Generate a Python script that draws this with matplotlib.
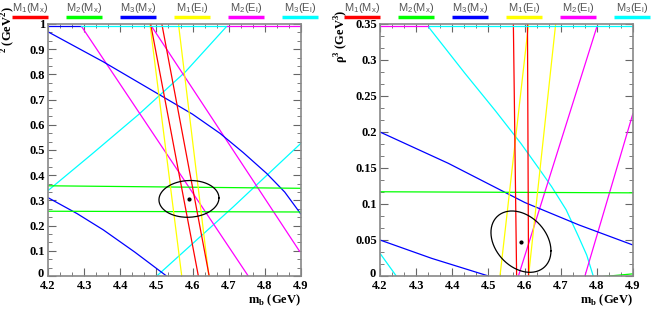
import numpy as np
import matplotlib
matplotlib.use("Agg")
import matplotlib.pyplot as plt
import matplotlib.transforms as mtransforms
from matplotlib.ticker import MultipleLocator, AutoMinorLocator

plt.rcParams['font.family'] = ['Liberation Serif', 'DejaVu Serif']
plt.rcParams['mathtext.fontset'] = 'custom'
plt.rcParams['mathtext.rm'] = 'Liberation Serif:bold'
plt.rcParams['mathtext.bf'] = 'Liberation Serif:bold'
plt.rcParams['mathtext.sf'] = 'Liberation Sans'

# legend
series_labels = [r'M$_\mathsf{1}$(M$_\mathsf{x}$)', r'M$_\mathsf{2}$(M$_\mathsf{x}$)', r'M$_\mathsf{3}$(M$_\mathsf{x}$)',
                 r'M$_\mathsf{1}$(E$_\mathsf{l}$)', r'M$_\mathsf{2}$(E$_\mathsf{l}$)', r'M$_\mathsf{3}$(E$_\mathsf{l}$)']
series_colors = ['#ff0000', '#00ff00', '#0000ff', '#ffff00', '#ff00ff', '#00ffff']

# left panel curves (m_b, y)
left_red_a = ([4.484, 4.616], [1.0, 0.0])
left_red_b = ([4.515, 4.646], [1.0, 0.0])
left_green_a = ([4.2, 4.9], [0.358, 0.348])
left_green_b = ([4.2, 4.9], [0.257, 0.254])
left_blue_a = ([4.2, 4.353, 4.51, 4.60, 4.676, 4.74, 4.805, 4.855, 4.897, 4.9],
               [0.969, 0.850, 0.718, 0.642, 0.566, 0.490, 0.407, 0.333, 0.251, 0.245])
left_blue_b = ([4.2, 4.28, 4.353, 4.44, 4.528], [0.311, 0.248, 0.183, 0.095, 0.0])
left_yellow_a = ([4.482, 4.570], [1.0, 0.0])
left_yellow_b = ([4.561, 4.645], [1.0, 0.0])
left_magenta_a = ([4.293, 4.754], [0.99, 0.0])
left_magenta_b = ([4.487, 4.897], [0.99, 0.096])
left_cyan_a = ([4.2, 4.32, 4.45, 4.58, 4.694], [0.339, 0.482, 0.640, 0.810, 0.99])
left_cyan_b = ([4.501, 4.713, 4.9], [0.0, 0.275, 0.527])
left_top_edge_x = [4.2, 4.29, 4.694, 4.9]
left_top_edge_c = [2, 5, 4]
left_center = (4.590, 0.306)
left_err = (0.083, 0.073, 0.05)   # sx, sy, correlation

# right panel curves
right_red_a = ([4.569, 4.578], [0.35, 0.0])
right_red_b = ([4.608, 4.611], [0.35, 0.0])
right_green_a = ([4.2, 4.9], [0.117, 0.1155])
right_green_b = ([4.2, 4.9], [-0.029, 0.003])
right_blue_a = ([4.2, 4.389, 4.601, 4.75, 4.9], [0.200, 0.1565, 0.102, 0.071, 0.043])
right_blue_b = ([4.2, 4.343, 4.5], [0.050, 0.0245, 0.0])
right_yellow_a = ([4.532, 4.611], [0.0, 0.35])
right_yellow_b = ([4.611, 4.686], [0.0, 0.35])
right_magenta_a = ([4.583, 4.800], [0.0, 0.346])
right_magenta_b = ([4.767, 4.9], [0.0, 0.226])
right_cyan_a = ([4.334, 4.435, 4.52, 4.59, 4.64, 4.675, 4.715, 4.749, 4.772, 4.790],
                [0.346, 0.2815, 0.229, 0.184, 0.149, 0.124, 0.092, 0.055, 0.029, 0.0])
right_cyan_b = ([4.2, 4.245], [0.0315, 0.0])
right_top_edge_x = [4.2, 4.335, 4.9]
right_top_edge_c = [4, 5]
right_center = (4.590, 0.0477)
right_err = (0.083, 0.0426, -0.3)

left_curves = [(left_cyan_a, 5), (left_cyan_b, 5), (left_magenta_a, 4), (left_magenta_b, 4),
               (left_blue_a, 2), (left_blue_b, 2), (left_green_a, 1), (left_green_b, 1),
               (left_yellow_a, 3), (left_yellow_b, 3), (left_red_a, 0), (left_red_b, 0)]
right_curves = [(right_cyan_a, 5), (right_cyan_b, 5), (right_magenta_a, 4), (right_magenta_b, 4),
                (right_blue_a, 2), (right_blue_b, 2), (right_green_a, 1), (right_green_b, 1),
                (right_yellow_a, 3), (right_yellow_b, 3), (right_red_a, 0), (right_red_b, 0)]

fig = plt.figure(figsize=(6.54, 3.10), dpi=100)
W, H = 654, 310


def panel(x0, ymax, ystep, curves, edge_x, edge_c, center, err, ylab, ylab_x, ylab_y):
    ax = fig.add_axes([x0 / W, 1 - 276 / H, 253 / W, 252 / H])
    for (xs, ys), ci in curves:
        ax.plot(xs, ys, color=series_colors[ci], lw=0.9, solid_capstyle='butt')
    for i, ci in enumerate(edge_c):
        ax.plot([edge_x[i], edge_x[i + 1]], [ymax * 0.992] * 2, color=series_colors[ci], lw=0.9)
    sx, sy, r = err
    t = np.linspace(0, 2 * np.pi, 200)
    phi = np.arccos(r)
    ax.plot(center[0] + sx * np.cos(t), center[1] + sy * np.cos(t + phi), color='black', lw=0.9)
    ax.plot([center[0]], [center[1]], 'o', color='black', ms=2)

    ax.set_xlim(4.2, 4.9)
    ax.set_ylim(0, ymax)
    ax.xaxis.set_major_locator(MultipleLocator(0.1))
    ax.xaxis.set_minor_locator(AutoMinorLocator(3))
    ax.yaxis.set_major_locator(MultipleLocator(ystep))
    ax.yaxis.set_minor_locator(AutoMinorLocator(3))
    # the "0" of the y axis is drawn separately, nudged clear of the corner x label
    ax.yaxis.set_major_formatter(plt.FuncFormatter(
        lambda v, p: '' if abs(v) < 1e-9 else '%g' % round(v, 3)))
    ax.xaxis.set_major_formatter(plt.FuncFormatter(lambda v, p: '%g' % round(v, 2)))
    ax.tick_params(which='both', direction='in', top=True, right=True, color='#666666')
    ax.tick_params(which='major', length=6, width=0.8, labelsize=9, pad=2)
    ax.tick_params(axis='x', which='major', pad=3)
    ax.tick_params(which='minor', length=3, width=0.6)
    for lab in ax.get_xticklabels() + ax.get_yticklabels():
        lab.set_fontweight('bold')
    zero_tr = ax.get_yaxis_transform() + mtransforms.ScaledTranslation(-3 / 72, 1.2 / 72, fig.dpi_scale_trans)
    ax.text(0, 0, '0', transform=zero_tr, ha='right', va='center', fontsize=9, fontweight='bold')
    for s in ax.spines.values():
        s.set_color('#888888')
        s.set_linewidth(1.2)
    ax.set_xlabel(r'm$_\mathbf{b}$ (GeV)', loc='right', fontsize=9, fontweight='bold', labelpad=0.5)
    fig.text(ylab_x / W, 1 - ylab_y / H, ylab, rotation=90, ha='center', va='top',
             fontsize=9, fontweight='bold')
    return ax


panel(48, 1.0, 0.1, left_curves, left_top_edge_x, left_top_edge_c, left_center, left_err,
      r'$^\mathbf{2}$ (GeV$^\mathbf{2}$)', 8, 6)
panel(380, 0.35, 0.05, right_curves, right_top_edge_x, right_top_edge_c, right_center, right_err,
      r'ρ$^\mathbf{3}$ (GeV$^\mathbf{3}$)', 342, 9)

# legend row above each panel
for start in (30, 362):
    for i, (lab, col) in enumerate(zip(series_labels, series_colors)):
        cx = start + i * 54
        fig.text(cx / W, 1 - 8 / H, lab, ha='center', va='center', fontsize=8,
                 color='#555555', family=['Liberation Sans', 'DejaVu Sans'])
        fig.add_artist(plt.Line2D([(cx - 18) / W, (cx + 18) / W], [1 - 17 / H] * 2,
                                  color=col, lw=2.5, solid_capstyle='butt'))

fig.savefig('out.png', dpi=100)
